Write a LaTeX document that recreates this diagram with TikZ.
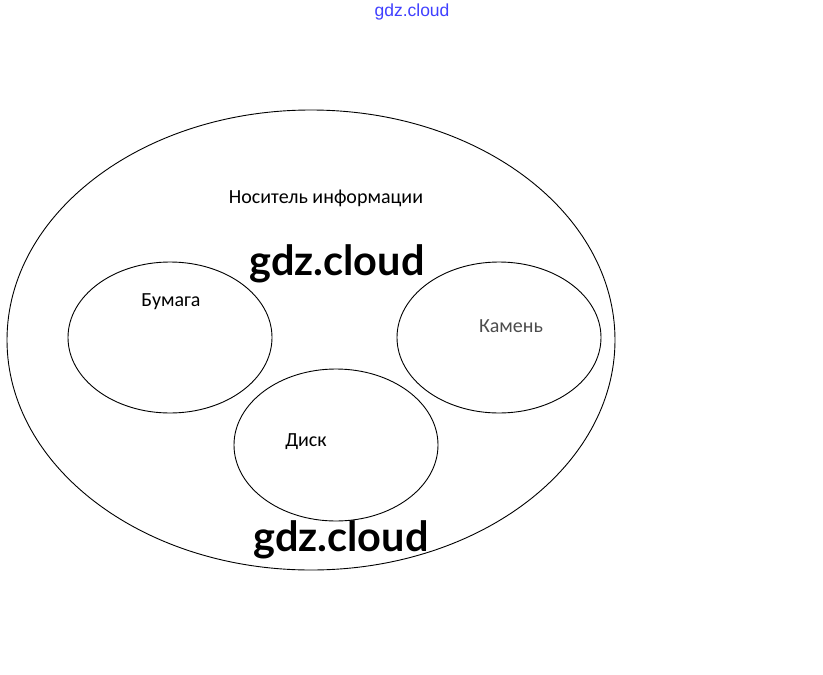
\documentclass[tikz,border=0pt]{standalone}
\usepackage{fontspec}
\setmainfont{Carlito}
\newfontfamily\wmfont{Lato}
\newfontfamily\topfont{Liberation Sans}
\begin{document}
\begin{tikzpicture}[x=1pt,y=-1pt,
  ring/.style={draw=black,line width=0.9pt},
  lbl/.style={font=\fontsize{20}{23}\selectfont,inner sep=0pt},
  wmark/.style={font=\wmfont\bfseries\fontsize{41.5}{46}\selectfont,inner sep=0pt}]
\useasboundingbox (0,0) rectangle (823,675);
\draw[ring] (311,340) ellipse [x radius=304, y radius=230];
\draw[ring] (170,337.5) ellipse [x radius=102, y radius=75.5];
\draw[ring] (499,337.5) ellipse [x radius=102, y radius=75.5];
\draw[ring] (336,445) ellipse [x radius=102, y radius=76];
\node[lbl] (outer) at (326,198) {Носитель информации};
\node[lbl] (b) at (171,302) {Бумага};
\node[lbl,text=black!70] (k) at (511,326) {Камень};
\node[lbl] (d) at (306,442) {Диск};
\node[wmark] (w1) at (337,264) {gdz.cloud};
\node[wmark] (w2) at (341,540) {gdz.cloud};
\node[font=\topfont\fontsize{17.5}{20}\selectfont,text=blue!75,inner sep=0pt] (w0) at (412,12) {gdz.cloud};
\end{tikzpicture}
\end{document}
